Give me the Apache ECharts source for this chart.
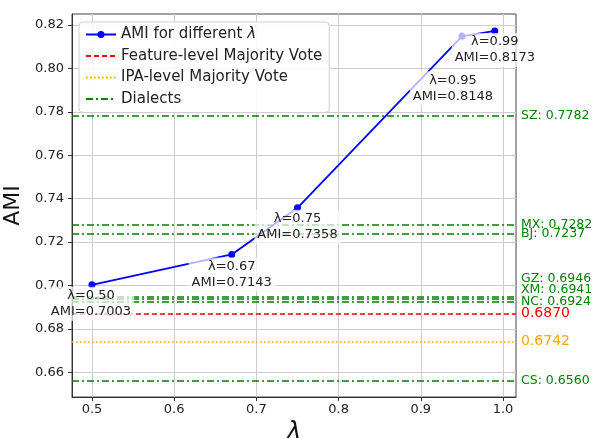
<!DOCTYPE html>
<html>
<head>
<meta charset="utf-8">
<script src="https://cdn.jsdelivr.net/npm/echarts@6/dist/echarts.min.js"></script>
<style>
  html, body { margin: 0; padding: 0; background: #fff; }
  #chart { width: 592px; height: 438px; }
</style>
</head>
<body>
<div id="chart"></div>
<script>
// data
const lambdas = [0.5, 0.67, 0.75, 0.95, 0.99]
const amiValues = [0.7003, 0.7143, 0.7358, 0.8148, 0.8173]
const dialectNames = ['SZ', 'MX', 'BJ', 'GZ', 'XM', 'NC', 'CS']
const dialectValues = [0.7782, 0.7282, 0.7237, 0.6946, 0.6941, 0.6924, 0.6560]
const featureVote = 0.6870
const ipaVote = 0.6742
const xTicks = [0.5, 0.6, 0.7, 0.8, 0.9, 1.0]
const yTicks = [0.66, 0.68, 0.70, 0.72, 0.74, 0.76, 0.78, 0.80, 0.82]

// annotation offsets (px) for each point label
const labelOffsets = [[-1, 19], [0, 20], [0, 19], [-9, 52], [0, 19]]
// crowded dialect labels get pushed up by blank lines (each = half a line height)
const dialectLift = { GZ: 2, XM: 1 }

const font = 'DejaVu Sans'
const chart = echarts.init(document.getElementById('chart'))

const pointData = lambdas.map((x, i) => ({
  value: [x, amiValues[i]],
  label: { offset: labelOffsets[i] }
}))

const dialectLines = dialectNames.map((n, i) => {
  const k = dialectLift[n] || 0
  return {
    yAxis: dialectValues[i],
    label: {
      formatter: n + ': ' + dialectValues[i].toFixed(4) + '\n'.repeat(k),
      lineHeight: 18
    }
  }
})

// legend entries for the reference lines: line only, no marker
const noMarker = { opacity: 0 }

chart.setOption({
  animation: false,
  textStyle: { fontFamily: font },
  grid: {
    left: 72, right: 76, top: 14, bottom: 41,
    outerBoundsMode: 'none',
    show: true, borderColor: '#444', borderWidth: 1
  },
  legend: {
    orient: 'vertical',
    left: 79, top: 22,
    itemWidth: 30, itemHeight: 9, itemGap: 6.5,
    padding: [5, 7, 6, 6],
    backgroundColor: 'rgba(255,255,255,0.85)',
    borderColor: '#d0d0d0', borderWidth: 1, borderRadius: 4,
    textStyle: {
      fontSize: 15, color: '#222', fontFamily: font,
      rich: { i: { fontSize: 15, fontStyle: 'italic', fontFamily: font, color: '#222' } }
    },
    formatter: name => name === 'AMI for different λ' ? 'AMI for different {i|λ}' : name,
    data: [
      { name: 'AMI for different λ' },
      { name: 'Feature-level Majority Vote', itemStyle: noMarker },
      { name: 'IPA-level Majority Vote', itemStyle: noMarker },
      { name: 'Dialects', itemStyle: noMarker }
    ]
  },
  xAxis: {
    type: 'value',
    min: 0.4757, max: 1.0158,
    name: 'λ', nameLocation: 'middle', nameGap: 24,
    nameTextStyle: { fontSize: 24, fontStyle: 'italic', color: '#111', fontFamily: font },
    axisLine: { show: true, lineStyle: { color: '#333' } },
    axisTick: { show: true, length: 4, customValues: xTicks, lineStyle: { color: '#333' } },
    axisLabel: {
      customValues: xTicks, margin: 6, fontSize: 13, color: '#222',
      formatter: v => v.toFixed(1)
    },
    splitLine: { show: true, lineStyle: { color: '#cccccc', width: 1 } }
  },
  yAxis: {
    type: 'value',
    min: 0.6486, max: 0.8251,
    name: 'AMI', nameLocation: 'middle', nameGap: 40,
    nameTextStyle: { fontSize: 22, color: '#111', fontFamily: font },
    axisLine: { show: true, lineStyle: { color: '#333' } },
    axisTick: { show: true, length: 4, customValues: yTicks, lineStyle: { color: '#333' } },
    axisLabel: {
      customValues: yTicks, margin: 8, fontSize: 13, color: '#222',
      formatter: v => v.toFixed(2)
    },
    splitLine: { show: true, lineStyle: { color: '#cccccc', width: 1 } }
  },
  series: [
    {
      name: 'AMI for different λ',
      type: 'line',
      data: pointData,
      symbol: 'circle', symbolSize: 7,
      itemStyle: { color: '#0000ff' },
      lineStyle: { color: '#0000ff', width: 1.8 },
      z: 5,
      label: {
        show: true,
        position: 'inside',
        fontSize: 13, color: '#222', lineHeight: 16,
        backgroundColor: 'rgba(255,255,255,0.7)',
        padding: [1, 3],
        formatter: p => 'λ=' + p.value[0].toFixed(2) + '\nAMI=' + p.value[1].toFixed(4)
      }
    },
    {
      name: 'Feature-level Majority Vote',
      type: 'line',
      data: [],
      symbol: 'none',
      itemStyle: { color: '#ff0000' },
      lineStyle: { color: '#ff0000', width: 1.5, type: [5, 3] },
      markLine: {
        silent: true, symbol: ['none', 'none'], precision: 4,
        lineStyle: { color: '#ff0000', width: 1.5, type: [5, 3] },
        label: { position: 'end', distance: 5, color: '#ff0000', fontSize: 14, formatter: featureVote.toFixed(4) },
        data: [{ yAxis: featureVote }]
      }
    },
    {
      name: 'IPA-level Majority Vote',
      type: 'line',
      data: [],
      symbol: 'none',
      itemStyle: { color: '#ffa500' },
      lineStyle: { color: '#ffa500', width: 1.5, type: [1.5, 2.5] },
      markLine: {
        silent: true, symbol: ['none', 'none'], precision: 4,
        lineStyle: { color: '#ffa500', width: 1.5, type: [1.5, 2.5] },
        label: { position: 'end', distance: 5, color: '#ffa500', fontSize: 14, formatter: ipaVote.toFixed(4) },
        data: [{ yAxis: ipaVote }]
      }
    },
    {
      name: 'Dialects',
      type: 'line',
      data: [],
      symbol: 'none',
      itemStyle: { color: '#008000' },
      lineStyle: { color: '#008000', width: 1.5, type: [7, 3, 2, 3] },
      markLine: {
        silent: true, symbol: ['none', 'none'], precision: 4,
        lineStyle: { color: '#008000', width: 1.5, type: [7, 3, 2, 3] },
        label: { position: 'end', distance: 5, color: '#008000', fontSize: 12.5 },
        data: dialectLines
      }
    }
  ]
})
</script>
</body>
</html>
